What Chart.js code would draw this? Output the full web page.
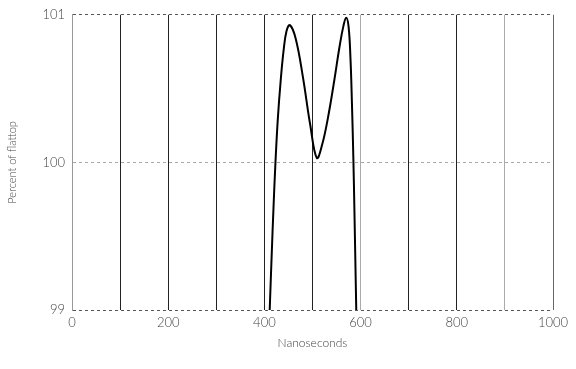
<!DOCTYPE html>
<html>
<head>
<meta charset="utf-8">
<script src="https://cdn.jsdelivr.net/npm/chart.js@4/dist/chart.umd.min.js"></script>
<style>
    body { margin: 0; background: #fff; }
    #wrap { width: 576px; height: 369px; }
</style>
</head>
<body>
<div id="wrap"><canvas id="pulseChart"></canvas></div>
<script>
// Pulse shape
const timeNs = [407, 411, 415, 419, 423, 428, 434, 440, 446, 453, 465, 480, 495, 509, 520, 532, 545, 556, 564, 570, 575, 579, 582, 585, 587, 589, 591, 593];
const percentFlattop = [98.64, 99.0, 99.36, 99.7, 100.0, 100.3, 100.56, 100.76, 100.89, 100.93, 100.84, 100.58, 100.26, 100.03, 100.12, 100.3, 100.55, 100.78, 100.92, 100.98, 100.92, 100.7, 100.4, 100.02, 99.7, 99.35, 99.0, 98.65];

// Axis ticks
const xTicksShown = [0, 200, 400, 600, 800, 1000];
const yTicks = [99, 100, 101];

const textColor = '#444';
const fontFamily = "Lato, 'DejaVu Sans', sans-serif";

// Vertical grid line shade per value
function xGridColor(ctx) {
    const v = ctx.tick ? ctx.tick.value : null;
    if (v === 0) return '#999';
    if (v === 600 || v === 900) return '#aaa';
    if (v === 1000) return '#666';
    return '#222';
}

// Horizontal lines: frame dark, middle faint
function yGridColor(ctx) {
    const v = ctx.tick ? ctx.tick.value : null;
    return v === 100 ? '#aaa' : '#555';
}

const ctx = document.getElementById('pulseChart').getContext('2d');
const pulseChart = new Chart(ctx, {
    type: 'line',
    data: {
        datasets: [{
            data: timeNs.map((t, i) => ({ x: t, y: percentFlattop[i] })),
            borderColor: '#000',
            borderWidth: 2,
            pointRadius: 0,
            fill: false,
            tension: 0.4
        }]
    },
    options: {
        responsive: true,
        maintainAspectRatio: false,
        animation: false,
        layout: { padding: { left: 0, right: 23, top: 14, bottom: 0 } },
        plugins: {
            legend: { display: false },
            tooltip: { enabled: false }
        },
        scales: {
            x: {
                type: 'linear',
                min: 0,
                max: 1000,
                afterFit: scale => { scale.height = 59; },
                ticks: {
                    stepSize: 100,
                    autoSkip: false,
                    maxRotation: 0,
                    padding: 5,
                    color: textColor,
                    font: { family: fontFamily, size: 13, weight: 300 },
                    callback: v => xTicksShown.includes(v) ? String(v) : ''
                },
                grid: { color: xGridColor, lineWidth: 1, drawTicks: false },
                border: { display: false },
                title: {
                    display: true,
                    text: 'Nanoseconds',
                    color: textColor,
                    font: { family: fontFamily, size: 12, weight: 300 },
                    padding: { top: 0, bottom: 19 }
                }
            },
            y: {
                min: 99,
                max: 101,
                afterFit: scale => { scale.width = 72; },
                afterBuildTicks: scale => { scale.ticks = yTicks.map(v => ({ value: v })); },
                ticks: {
                    padding: 7,
                    color: textColor,
                    font: { family: fontFamily, size: 13, weight: 300 }
                },
                grid: { color: yGridColor, lineWidth: 1, drawTicks: false },
                border: { display: true, color: '#999', width: 1, dash: [3, 3] },
                title: {
                    display: true,
                    text: 'Percent of flattop',
                    color: textColor,
                    font: { family: fontFamily, size: 11, weight: 300 },
                    padding: { top: 6, bottom: 0 }
                }
            }
        }
    }
});
</script>
</body>
</html>
